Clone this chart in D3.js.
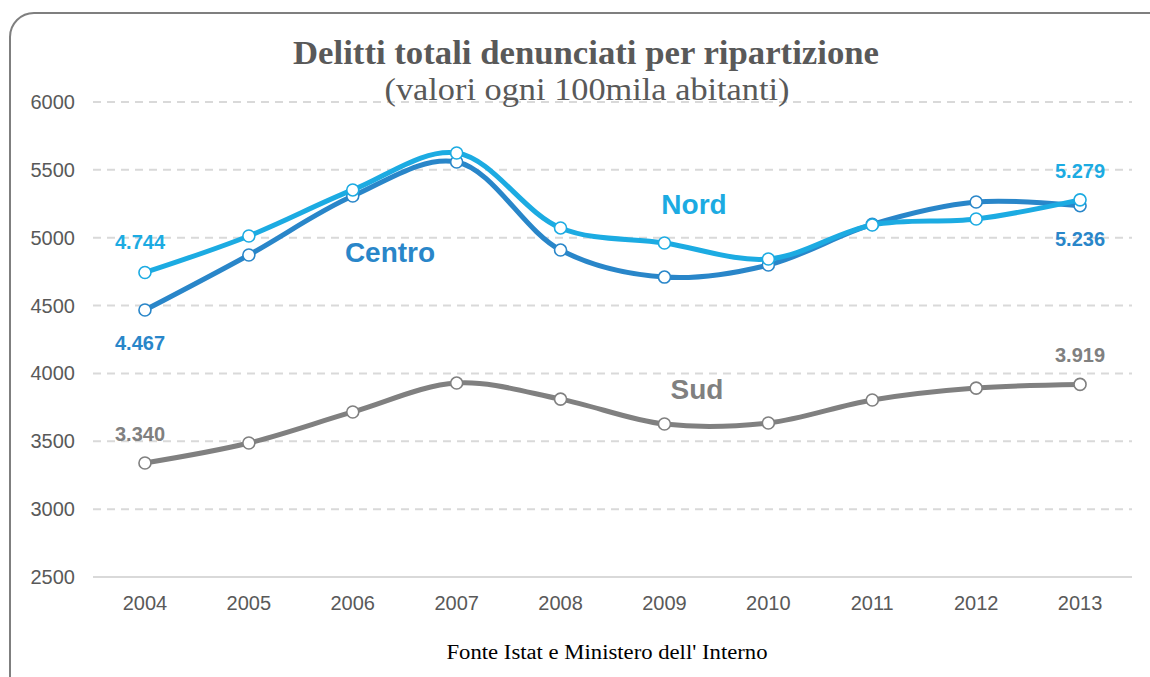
<!DOCTYPE html>
<html>
<head>
<meta charset="utf-8">
<script src="https://cdn.jsdelivr.net/npm/d3@7"></script>
<style>
	body { margin: 0; background: #fff; }
	svg { display: block; }
</style>
</head>
<body>
<svg id="chart" width="1150" height="677"></svg>
<script>
// data
const years = ["2004", "2005", "2006", "2007", "2008", "2009", "2010", "2011", "2012", "2013"]
const nord   = [4744, 5013, 5352, 5624, 5072, 4961, 4843, 5094, 5138, 5279]
const centro = [4467, 4873, 5307, 5558, 4909, 4710, 4799, 5098, 5263, 5236]
const sud    = [3340, 3487, 3716, 3929, 3811, 3627, 3635, 3804, 3892, 3919]
const yTicks = [2500, 3000, 3500, 4000, 4500, 5000, 5500, 6000]

const series = [
	{ name: "Centro", values: centro, color: "#2986c9", label: [390, 252], first: [140, 343], last: [1080, 239] },
	{ name: "Nord",   values: nord,   color: "#1cabe2", label: [694, 204], first: [140, 242], last: [1080, 171] },
	{ name: "Sud",    values: sud,    color: "#808080", label: [697, 389], first: [140, 434], last: [1080, 355] }
]

var svg = d3.select("#chart")

// frame
svg.append("rect")
	.attr("x", 10).attr("y", 13)
	.attr("width", 1170).attr("height", 700)
	.attr("rx", 24).attr("ry", 24)
	.attr("fill", "none")
	.attr("stroke", "#7f7f7f")
	.attr("stroke-width", 2)

var xScale = d3.scaleBand().domain(years).range([93, 1132]),
	yScale = d3.scaleLinear().domain([2500, 6000]).range([577, 102])

// grid
svg.append("g")
	.selectAll("line")
	.data(yTicks)
	.enter().append("line")
	.attr("x1", 93).attr("x2", 1132)
	.attr("y1", d => yScale(d)).attr("y2", d => yScale(d))
	.attr("stroke", "#d9d9d9")
	.attr("stroke-width", 2)
	.attr("stroke-dasharray", d => d === 2500 ? null : "8,6")

// y axis labels
svg.append("g")
	.selectAll("text")
	.data(yTicks)
	.enter().append("text")
	.attr("x", 75)
	.attr("y", d => yScale(d))
	.attr("dy", "0.35em")
	.attr("text-anchor", "end")
	.attr("font-family", "Liberation Sans, Arial, sans-serif")
	.attr("font-size", "20px")
	.attr("fill", "#595959")
	.text(d => d)

// x axis labels
svg.append("g")
	.selectAll("text")
	.data(years)
	.enter().append("text")
	.attr("x", d => xScale(d) + xScale.bandwidth() / 2)
	.attr("y", 610)
	.attr("text-anchor", "middle")
	.attr("font-family", "Liberation Sans, Arial, sans-serif")
	.attr("font-size", "20px")
	.attr("fill", "#595959")
	.text(d => d)

var line = d3.line()
	.x((d, i) => xScale(years[i]) + xScale.bandwidth() / 2)
	.y(d => yScale(d))
	.curve(d3.curveCatmullRom.alpha(0.5))

// Sud first, then Centro, Nord on top
var order = [series[2], series[0], series[1]]

order.forEach(function(s) {
	var g = svg.append("g")
	g.append("path")
		.attr("d", line(s.values))
		.attr("fill", "none")
		.attr("stroke", s.color)
		.attr("stroke-width", 5)
		.attr("stroke-linejoin", "round")
	g.selectAll("circle")
		.data(s.values)
		.enter().append("circle")
		.attr("cx", (d, i) => xScale(years[i]) + xScale.bandwidth() / 2)
		.attr("cy", d => yScale(d))
		.attr("r", 6)
		.attr("fill", "#fff")
		.attr("stroke", s.color)
		.attr("stroke-width", 1.6)
})

// series names and end values
series.forEach(function(s) {
	svg.append("text")
		.attr("x", s.label[0]).attr("y", s.label[1])
		.attr("dy", "0.35em")
		.attr("text-anchor", "middle")
		.attr("font-family", "Liberation Sans, Arial, sans-serif")
		.attr("font-weight", "bold")
		.attr("font-size", "28px")
		.attr("fill", s.color)
		.text(s.name)

	var fmt = v => d3.format(",")(v).replace(",", ".")
	;[[s.first, s.values[0]], [s.last, s.values[s.values.length - 1]]].forEach(function(p) {
		svg.append("text")
			.attr("x", p[0][0]).attr("y", p[0][1])
			.attr("dy", "0.35em")
			.attr("text-anchor", "middle")
			.attr("font-family", "Liberation Sans, Arial, sans-serif")
			.attr("font-weight", "bold")
			.attr("font-size", "20px")
			.attr("fill", s.color)
			.text(fmt(p[1]))
	})
})

// titles
svg.append("text")
	.attr("x", 586).attr("y", 64)
	.attr("text-anchor", "middle")
	.attr("font-family", "Liberation Serif, serif")
	.attr("font-weight", "bold")
	.attr("font-size", "33px")
	.attr("textLength", 586)
	.attr("lengthAdjust", "spacingAndGlyphs")
	.attr("fill", "#595959")
	.text("Delitti totali denunciati per ripartizione")

svg.append("text")
	.attr("x", 587).attr("y", 100)
	.attr("text-anchor", "middle")
	.attr("font-family", "Liberation Serif, serif")
	.attr("font-size", "32px")
	.attr("textLength", 405)
	.attr("lengthAdjust", "spacingAndGlyphs")
	.attr("fill", "#595959")
	.text("(valori ogni 100mila abitanti)")

svg.append("text")
	.attr("x", 607).attr("y", 659)
	.attr("text-anchor", "middle")
	.attr("font-family", "Liberation Serif, serif")
	.attr("font-size", "20px")
	.attr("textLength", 321)
	.attr("lengthAdjust", "spacingAndGlyphs")
	.attr("fill", "#000")
	.text("Fonte Istat e Ministero dell' Interno")
</script>
</body>
</html>
